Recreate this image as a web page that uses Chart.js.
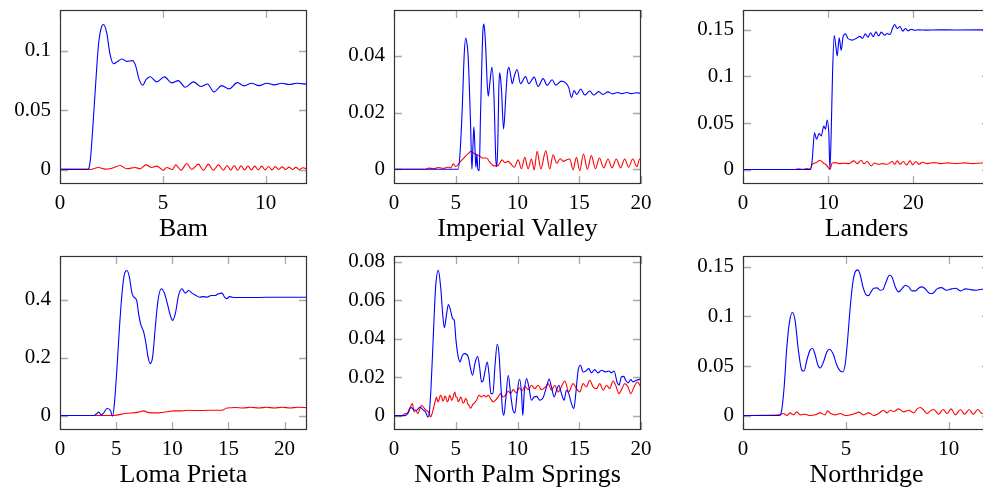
<!DOCTYPE html>
<html lang="en">
<head>
<meta charset="UTF-8">
<title>Earthquake response</title>
<script src="https://cdn.jsdelivr.net/npm/chart.js"></script>
<style>
  body { margin: 0; width: 983px; height: 489px; overflow: hidden; background: #fff; position: relative; }
  canvas { position: absolute; }
  .title { position: absolute; width: 300px; text-align: center; font-family: "Liberation Serif", serif; font-size: 26px; line-height: 26px; color: #000; }
</style>
</head>
<body>
<script>
// ---- data: [time, value] ----
const bamBlue = [[0,0],[1.35,0],[1.46,0.006],[1.55,0.024],[1.71,0.066],[1.87,0.105],[2.0,0.119],[2.11,0.122],[2.27,0.115],[2.43,0.097],[2.6,0.089],[2.81,0.091],[3.0,0.093],[3.24,0.091],[3.52,0.0916],[3.68,0.087],[3.84,0.076],[4.02,0.0709],[4.18,0.0757],[4.38,0.078],[4.7,0.0737],[5.07,0.0779],[5.43,0.0729],[5.75,0.0748],[6.08,0.0692],[6.48,0.0737],[6.85,0.0698],[7.16,0.072],[7.48,0.0653],[7.86,0.0706],[8.21,0.0678],[8.62,0.0731],[8.94,0.0704],[9.31,0.0726],[9.67,0.0706],[10.04,0.0726],[10.41,0.0712],[10.77,0.0726],[11.14,0.0715],[11.5,0.0726],[12,0.0717]];
const bamRed = [[0,0.0003],[1.4,0.0003],[1.46,0],[1.87,0.0017],[2.19,0.0003],[2.52,0.0011],[2.92,0.0034],[3.24,0.0006],[3.65,0.0017],[3.89,0.0006],[4.17,0.0039],[4.46,0.0017],[4.7,0.0028],[5.02,-0.0006],[5.18,0.0017],[5.46,0],[5.62,0.0039],[5.88,-0.0006],[6.16,0.005],[6.4,0],[6.72,0.0045],[6.97,-0.0006],[7.21,0.0045],[7.45,-0.0006],[7.7,0.0039],[7.94,-0.0006],[8.12,0.0034],[8.3,-0.0006],[8.46,0.0034],[8.63,-0.0006],[8.8,0.0031],[8.97,-0.0004],[9.13,0.003],[9.3,-0.0004],[9.46,0.0028],[9.63,-0.0003],[9.8,0.0028],[9.96,-0.0003],[10.13,0.0025],[10.3,-0.0003],[10.46,0.0024],[10.63,0],[10.8,0.0022],[10.96,0],[11.13,0.002],[11.3,0],[11.46,0.0018],[11.63,0],[11.8,0.0015],[12,0.0004]];

const ivBlue = [[0,0],[5.2,0],[5.35,0.006],[5.53,0.0218],[5.68,0.04],[5.8,0.0463],[5.92,0.044],[6.01,0.0393],[6.2,0.0159],[6.31,0],[6.4,0.009],[6.47,0.015],[6.55,0.008],[6.63,0.0007],[6.71,0.0054],[6.79,0],[6.9,-0.0005],[7.0,0.018],[7.09,0.0335],[7.2,0.049],[7.28,0.0512],[7.36,0.048],[7.44,0.0416],[7.55,0.03],[7.63,0.0258],[7.79,0.0317],[7.93,0.036],[8.09,0.0264],[8.25,0.003],[8.33,0.001],[8.41,0.01],[8.48,0.027],[8.55,0.034],[8.63,0.032],[8.71,0.0276],[8.87,0.0142],[9.06,0.0264],[9.18,0.034],[9.3,0.036],[9.45,0.033],[9.57,0.0302],[9.75,0.033],[9.97,0.0352],[10.24,0.0302],[10.65,0.0327],[10.91,0.0302],[11.35,0.0325],[11.67,0.0292],[12.08,0.032],[12.4,0.0296],[12.8,0.0316],[13.1,0.0297],[13.56,0.0311],[13.96,0.0302],[14.15,0.0288],[14.37,0.0253],[14.58,0.0278],[14.8,0.0264],[15.12,0.0283],[15.44,0.0262],[15.85,0.0276],[16.17,0.0262],[16.58,0.0274],[16.93,0.0264],[17.33,0.0273],[17.68,0.0266],[18.08,0.0271],[18.46,0.0267],[18.84,0.0271],[19.22,0.0267],[19.6,0.027],[20,0.0268]];
const ivRed = [[0,0],[2.5,0],[2.8,0.0004],[3.2,0.0002],[3.6,0.0006],[4.0,0.0003],[4.4,0.0008],[4.6,0.0005],[4.8,0.0019],[5.0,0.0009],[5.34,0.0025],[5.74,0.0044],[6.0,0.0055],[6.23,0.0063],[6.55,0.0054],[6.88,0.0048],[7.14,0.004],[7.49,0.004],[7.76,0.0025],[8.11,0.0012],[8.38,0.0012],[8.76,0.0033],[8.97,0.0023],[9.25,0.0028],[9.46,0.0019],[9.73,0.0007],[10.05,0.0033],[10.32,0.0002],[10.59,0.0042],[10.86,0.0002],[11.13,0.0036],[11.35,-0.0002],[11.59,0.0063],[11.89,0.0001],[12.29,0.0065],[12.61,0.0001],[12.88,0.0051],[13.18,0.0021],[13.45,0.0037],[13.72,0.0028],[13.96,0.0033],[14.23,0.0036],[14.5,-0.0002],[14.77,0.0042],[15.04,-0.0005],[15.34,0.0054],[15.66,0],[15.98,0.0048],[16.31,0.0002],[16.63,0.004],[16.98,0.0005],[17.33,0.0036],[17.65,0.0005],[18.0,0.0036],[18.35,0.0005],[18.68,0.0036],[19.0,0.0007],[19.33,0.0036],[19.67,0.0009],[19.89,0.0036],[20,0.0028]];

const landersBlue = [[0,0],[7.92,0],[8.12,0.0093],[8.39,0.0396],[8.63,0.0325],[8.94,0.0386],[9.18,0.036],[9.49,0.0468],[9.69,0.0432],[9.88,0.0532],[10.08,0.0379],[10.2,0.0007],[10.35,0.0379],[10.51,0.102],[10.71,0.144],[10.9,0.1325],[11.06,0.122],[11.3,0.1414],[11.53,0.128],[11.76,0.143],[12.04,0.1457],[12.31,0.1407],[12.82,0.139],[13.33,0.141],[13.73,0.143],[14.04,0.1407],[14.35,0.1457],[14.67,0.142],[14.98,0.1468],[15.29,0.1428],[15.61,0.1478],[15.92,0.1435],[16.24,0.1475],[16.63,0.1443],[16.94,0.146],[17.25,0.145],[17.57,0.152],[17.8,0.1557],[18.12,0.1514],[18.43,0.1536],[18.75,0.1486],[19.06,0.1514],[19.37,0.149],[19.76,0.1507],[20.16,0.1496],[20.67,0.15],[21.5,0.1497],[23,0.15],[25,0.1499],[29,0.15]];
const landersRed = [[0,0],[6.0,0],[6.5,0.0007],[7.0,0.0003],[7.5,0.001],[7.9,0.0006],[8.12,0.0057],[8.63,0.0075],[9.02,0.01],[9.41,0.0071],[9.69,0.0057],[9.96,0.0029],[10.2,0],[10.47,0.0071],[10.86,0.0075],[11.25,0.0064],[11.84,0.0068],[12.43,0.0064],[13.02,0.0093],[13.41,0.0064],[13.88,0.01],[14.2,0.0064],[14.59,0.0086],[15.06,0.0039],[15.4,0.0071],[15.84,0.0057],[16.35,0.0064],[16.94,0.0057],[17.53,0.0086],[17.8,0.0057],[18.12,0.0093],[18.43,0.0057],[18.82,0.0086],[19.2,0.005],[19.61,0.0093],[19.92,0.005],[20.27,0.0086],[20.67,0.0057],[21.06,0.0079],[21.65,0.0064],[22.4,0.0075],[23.2,0.0064],[24,0.0072],[25,0.0065],[26,0.0072],[27,0.0064],[28,0.007],[29,0.0066]];

const lomaBlue = [[0,0],[3.0,0],[3.21,0.0046],[3.45,0.0115],[3.68,0.0023],[3.89,0.009],[4.19,0.024],[4.48,0.018],[4.69,-0.002],[4.87,0.053],[5.08,0.167],[5.28,0.294],[5.52,0.42],[5.73,0.486],[5.97,0.5],[6.18,0.477],[6.41,0.422],[6.59,0.408],[6.83,0.397],[7.0,0.351],[7.18,0.316],[7.45,0.288],[7.66,0.248],[7.84,0.202],[8.04,0.179],[8.25,0.202],[8.49,0.305],[8.73,0.397],[9.02,0.437],[9.32,0.42],[9.53,0.391],[9.83,0.345],[10.03,0.328],[10.27,0.351],[10.56,0.414],[10.86,0.437],[11.16,0.422],[11.46,0.431],[11.75,0.422],[12.11,0.414],[12.41,0.408],[12.79,0.41],[13.09,0.408],[13.48,0.414],[13.83,0.414],[14.13,0.42],[14.42,0.422],[14.66,0.408],[14.87,0.403],[15.08,0.41],[15.32,0.408],[16,0.407],[17.7,0.407],[19.17,0.408],[20.5,0.408],[22,0.408]];
const lomaRed = [[0,0],[3.5,0],[4.78,0],[5.82,0.007],[7.0,0.0115],[7.45,0.016],[7.9,0.01],[8.79,0.009],[9.68,0.0138],[10.12,0.016],[10.86,0.016],[11.46,0.018],[12.3,0.017],[13.24,0.018],[14.42,0.018],[14.87,0.026],[15.61,0.0275],[16.3,0.026],[17,0.0285],[17.7,0.026],[18.4,0.0285],[19.1,0.026],[19.8,0.0285],[20.5,0.026],[21.2,0.0285],[22,0.027]];

const npsBlue = [[0,0],[0.89,0],[1.11,0.001],[1.38,0.0042],[1.59,0.0031],[1.84,0.0028],[2.1,0.0045],[2.37,0.0028],[2.56,0.0019],[2.73,-0.0007],[2.83,0],[3.0,0.0149],[3.18,0.041],[3.37,0.0668],[3.59,0.0755],[3.78,0.0668],[3.94,0.053],[4.08,0.0457],[4.24,0.052],[4.4,0.0578],[4.58,0.0547],[4.75,0.0504],[4.88,0.0495],[5.02,0.0391],[5.2,0.0305],[5.34,0.0279],[5.53,0.0313],[5.74,0.0322],[6.01,0.0305],[6.2,0.0244],[6.36,0.021],[6.55,0.027],[6.77,0.0308],[6.93,0.0253],[7.09,0.0175],[7.23,0.0184],[7.36,0.0227],[7.55,0.0279],[7.69,0.0218],[7.85,0.0114],[8.01,0.0114],[8.17,0.0253],[8.36,0.0371],[8.5,0.0322],[8.66,0.0149],[8.79,0.0028],[8.9,0.0002],[9.04,0.008],[9.25,0.021],[9.44,0.0114],[9.63,0.0028],[9.79,0.0014],[9.97,0.0114],[10.16,0.019],[10.33,0.0114],[10.43,0],[10.54,0.0114],[10.73,0.0192],[10.92,0.0149],[11.13,0.008],[11.35,0.0097],[11.54,0.01],[11.81,0.008],[12.08,0.0094],[12.35,0.0149],[12.56,0.019],[12.75,0.0149],[12.97,0.0097],[13.16,0.0132],[13.34,0.0158],[13.56,0.0114],[13.78,0.008],[13.96,0.0132],[14.15,0.0114],[14.37,0.0062],[14.56,0.0036],[14.72,0.0114],[14.91,0.0235],[15.1,0.0262],[15.31,0.0227],[15.53,0.0232],[15.77,0.0244],[15.98,0.0222],[16.25,0.0239],[16.52,0.0222],[16.79,0.0236],[17.12,0.0227],[17.39,0.0232],[17.6,0.0222],[17.82,0.0232],[18.06,0.0175],[18.22,0.0158],[18.41,0.0201],[18.6,0.0204],[18.76,0.0184],[18.95,0.017],[19.17,0.0187],[19.35,0.0175],[19.62,0.0184],[20,0.019]];
const npsRed = [[0,0],[0.62,0],[0.89,0.001],[1.1,0.0014],[1.3,0.0042],[1.49,0.0062],[1.62,0.0019],[1.76,0.0028],[1.92,0.001],[2.1,0.0036],[2.24,0.0054],[2.4,0.0042],[2.59,0.0028],[2.78,0.0019],[2.97,-0.0007],[3.1,0.0014],[3.26,0.0054],[3.38,0.0085],[3.45,0.0097],[3.55,0.0072],[3.64,0.008],[3.75,0.0105],[3.86,0.0097],[3.96,0.0075],[4.04,0.0083],[4.12,0.0101],[4.21,0.0094],[4.3,0.0072],[4.4,0.008],[4.5,0.0106],[4.58,0.0097],[4.67,0.0079],[4.75,0.0088],[4.85,0.0112],[4.93,0.0123],[5.02,0.0095],[5.1,0.0097],[5.2,0.0072],[5.29,0.008],[5.38,0.0096],[5.48,0.0088],[5.58,0.0065],[5.69,0.0071],[5.78,0.0089],[5.88,0.0083],[5.97,0.0061],[6.07,0.0054],[6.18,0.0038],[6.28,0.0045],[6.38,0.0058],[6.47,0.0062],[6.58,0.0072],[6.69,0.008],[6.78,0.0095],[6.88,0.0106],[7.09,0.0097],[7.28,0.0106],[7.44,0.0097],[7.63,0.0106],[7.82,0.0088],[8.04,0.0071],[8.22,0.008],[8.44,0.0097],[8.63,0.0114],[8.84,0.0097],[9.04,0.0106],[9.25,0.0128],[9.44,0.0114],[9.65,0.0135],[9.92,0.0118],[10.14,0.0145],[10.38,0.0128],[10.59,0.0152],[10.87,0.0135],[11.13,0.0158],[11.4,0.0141],[11.67,0.0158],[11.94,0.0135],[12.27,0.0149],[12.48,0.0166],[12.75,0.0132],[13.02,0.0158],[13.29,0.0123],[13.61,0.0158],[13.83,0.018],[14.15,0.0123],[14.5,0.0166],[14.77,0.0141],[15.04,0.0123],[15.31,0.0166],[15.58,0.0149],[15.85,0.0184],[16.12,0.0149],[16.39,0.014],[16.66,0.0166],[16.93,0.0132],[17.2,0.0158],[17.47,0.0141],[17.74,0.018],[18.0,0.0149],[18.2,0.0114],[18.47,0.0141],[18.68,0.0166],[18.95,0.0149],[19.17,0.0114],[19.44,0.0149],[19.71,0.0175],[20,0.0149]];

const northBlue = [[0,0],[1.77,0],[1.88,0.0054],[2.0,0.029],[2.13,0.069],[2.26,0.0945],[2.4,0.104],[2.53,0.096],[2.69,0.066],[2.86,0.0457],[2.97,0.045],[3.1,0.0558],[3.26,0.066],[3.38,0.0676],[3.51,0.0609],[3.64,0.0508],[3.75,0.048],[3.91,0.0541],[4.07,0.0642],[4.2,0.0669],[4.37,0.0625],[4.56,0.0508],[4.72,0.045],[4.85,0.044],[4.97,0.0525],[5.08,0.076],[5.21,0.1096],[5.34,0.1348],[5.45,0.1449],[5.58,0.147],[5.7,0.1416],[5.83,0.1298],[5.96,0.1224],[6.09,0.121],[6.22,0.1248],[6.35,0.1285],[6.51,0.1288],[6.67,0.1264],[6.8,0.1271],[6.95,0.1348],[7.11,0.1416],[7.24,0.1399],[7.4,0.1298],[7.56,0.1248],[7.73,0.1281],[7.89,0.1315],[8.05,0.1298],[8.21,0.1258],[8.38,0.1258],[8.54,0.1288],[8.7,0.1298],[8.86,0.1278],[9.03,0.1237],[9.19,0.1231],[9.43,0.1278],[9.64,0.1291],[9.89,0.1264],[10.13,0.1278],[10.32,0.1285],[10.57,0.1258],[10.81,0.1278],[11.05,0.1271],[11.3,0.1264],[11.6,0.1275],[12,0.1268]];
const northRed = [[0,0],[1.0,0.0003],[1.77,0.0007],[1.96,0.002],[2.13,0],[2.29,0.0027],[2.45,0.0007],[2.61,0.0037],[2.78,0.0007],[3.02,0.0013],[3.26,0],[3.5,0.0007],[3.75,0.0027],[3.99,0.0007],[4.11,0.0047],[4.27,0.002],[4.48,0.0007],[4.72,0.002],[4.97,0],[5.21,0.0007],[5.45,0.002],[5.62,0.0034],[5.86,0.0007],[6.11,0.0027],[6.35,0],[6.59,0.002],[6.83,0.0054],[7.0,0.0027],[7.16,0.0054],[7.32,0.004],[7.56,0.0067],[7.81,0.0037],[8.05,0.0054],[8.3,0.0027],[8.46,0.0067],[8.62,0.0081],[8.78,0.0054],[8.94,0.002],[9.1,0.0047],[9.27,0.0061],[9.51,0.0013],[9.72,0.0061],[9.92,0.002],[10.11,0.0067],[10.32,0.0007],[10.57,0.0061],[10.76,0.0013],[10.99,0.0061],[11.18,0.0013],[11.41,0.0061],[11.61,0.002],[11.85,0.0054],[12,0.004]];

// tick values
const bamXTicks = [0, 5, 10],           bamYTicks = [0, 0.05, 0.1];
const ivXTicks = [0, 5, 10, 15, 20],    ivYTicks = [0, 0.02, 0.04];
const landersXTicks = [0, 10, 20],      landersYTicks = [0, 0.05, 0.1, 0.15];
const lomaXTicks = [0, 5, 10, 15, 20],  lomaYTicks = [0, 0.2, 0.4];
const npsXTicks = [0, 5, 10, 15, 20],   npsYTicks = [0, 0.02, 0.04, 0.06, 0.08];
const northXTicks = [0, 5, 10],         northYTicks = [0, 0.05, 0.1, 0.15];

// ---- layout ----
const W = 247, H = 174, ML = 60, MT = 10, MR = 14, MB = 40;
const FONT = '"Liberation Serif", "Times New Roman", serif';

const panels = [
  { title: 'Bam',                left: 60,  top: 10,  xMax: 12, yMin: -0.0122, yMax: 0.1342, xTicks: bamXTicks,     yTicks: bamYTicks,     blue: bamBlue,     red: bamRed },
  { title: 'Imperial Valley',    left: 394, top: 10,  xMax: 20, yMin: -0.0052, yMax: 0.0562, xTicks: ivXTicks,      yTicks: ivYTicks,      blue: ivBlue,      red: ivRed },
  { title: 'Landers',            left: 743, top: 10,  xMax: 29, yMin: -0.0155, yMax: 0.1713, xTicks: landersXTicks, yTicks: landersYTicks, blue: landersBlue, red: landersRed },
  { title: 'Loma Prieta',        left: 60,  top: 256, xMax: 22, yMin: -0.05,   yMax: 0.55,   xTicks: lomaXTicks,    yTicks: lomaYTicks,    blue: lomaBlue,    red: lomaRed },
  { title: 'North Palm Springs', left: 394, top: 256, xMax: 20, yMin: -0.0075, yMax: 0.083,  xTicks: npsXTicks,     yTicks: npsYTicks,     blue: npsBlue,     red: npsRed },
  { title: 'Northridge',         left: 743, top: 256, xMax: 12, yMin: -0.0146, yMax: 0.161,  xTicks: northXTicks,   yTicks: northYTicks,   blue: northBlue,   red: northRed }
];

// inward tick marks + frame, pgfplots style
const framePlugin = {
  id: 'frame',
  beforeDatasetsDraw(chart) {
    const { ctx, chartArea: a, scales: { x, y } } = chart;
    ctx.save();
    ctx.strokeStyle = '#a8a8a8';
    ctx.lineWidth = 1.3;
    ctx.beginPath();
    x.ticks.forEach(t => {
      const px = Math.round(x.getPixelForValue(t.value)) + 0.5;
      ctx.moveTo(px, a.top); ctx.lineTo(px, a.top + 8);
      ctx.moveTo(px, a.bottom); ctx.lineTo(px, a.bottom - 8);
    });
    y.ticks.forEach(t => {
      const py = Math.round(y.getPixelForValue(t.value)) + 0.5;
      ctx.moveTo(a.left, py); ctx.lineTo(a.left + 8, py);
      ctx.moveTo(a.right, py); ctx.lineTo(a.right - 8, py);
    });
    ctx.stroke();
    ctx.restore();
  },
  afterDatasetsDraw(chart) {
    const { ctx, chartArea: a } = chart;
    ctx.save();
    ctx.strokeStyle = '#333';
    ctx.lineWidth = 1.2;
    ctx.strokeRect(a.left + 0.5, a.top + 0.5, a.right - a.left - 1, a.bottom - a.top - 1);
    ctx.restore();
  }
};

const toPoints = arr => arr.map(([x, y]) => ({ x, y }));

panels.forEach(p => {
  const cv = document.createElement('canvas');
  cv.width = ML + W + MR;
  cv.height = MT + H + MB;
  cv.style.left = (p.left - ML) + 'px';
  cv.style.top = (p.top - MT) + 'px';
  document.body.appendChild(cv);

  const t = document.createElement('div');
  t.className = 'title';
  t.textContent = p.title;
  t.style.left = (p.left + W / 2 - 150) + 'px';
  t.style.top = (p.top + H + 31) + 'px';
  document.body.appendChild(t);

  new Chart(cv, {
    type: 'line',
    data: {
      datasets: [
        { data: toPoints(p.blue), borderColor: '#0000ff', borderWidth: 1.1, pointRadius: 0, cubicInterpolationMode: 'monotone' },
        { data: toPoints(p.red), borderColor: '#ff0000', borderWidth: 1.1, pointRadius: 0, cubicInterpolationMode: 'monotone' }
      ]
    },
    options: {
      responsive: false,
      animation: false,
      devicePixelRatio: 1,
      layout: { padding: { top: MT, right: MR, left: 0, bottom: 0 } },
      plugins: { legend: { display: false }, tooltip: { enabled: false } },
      scales: {
        x: {
          type: 'linear', min: 0, max: p.xMax,
          grid: { display: false, drawTicks: false },
          border: { display: false },
          ticks: { color: '#000', font: { family: FONT, size: 21 }, padding: 7, maxRotation: 0, callback: v => String(v) },
          afterBuildTicks: s => { s.ticks = p.xTicks.map(v => ({ value: v })); },
          afterFit: s => { s.height = MB; s.paddingLeft = 0; s.paddingRight = 0; }
        },
        y: {
          type: 'linear', min: p.yMin, max: p.yMax,
          grid: { display: false, drawTicks: false },
          border: { display: false },
          ticks: { color: '#000', font: { family: FONT, size: 21 }, padding: 9, callback: v => String(v) },
          afterBuildTicks: s => { s.ticks = p.yTicks.map(v => ({ value: v })); },
          afterFit: s => { s.width = ML; s.paddingTop = 0; s.paddingBottom = 0; }
        }
      }
    },
    plugins: [framePlugin]
  });
});
</script>
</body>
</html>
